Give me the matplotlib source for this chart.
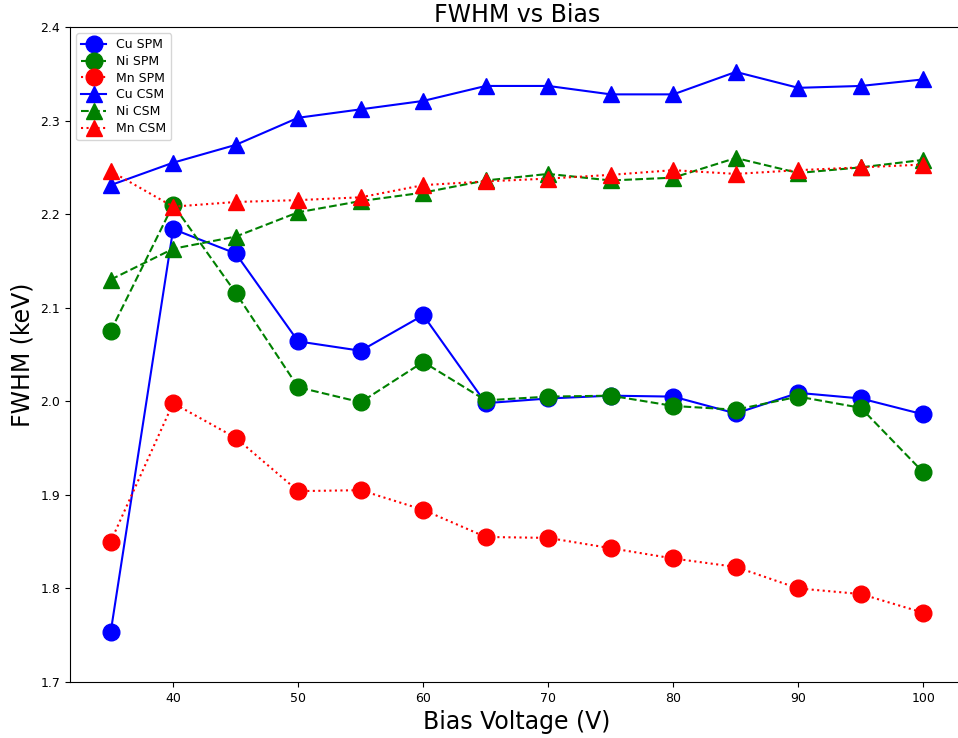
import numpy as np
import matplotlib
matplotlib.use("Agg")
import matplotlib.pyplot as plt

bias = [35, 40, 45, 50, 55, 60, 65, 70, 75, 80, 85, 90, 95, 100]

cu_spm = [1.753, 2.184, 2.158, 2.064, 2.054, 2.092, 1.998, 2.003, 2.006, 2.005, 1.987, 2.009, 2.003, 1.986]
ni_spm = [2.075, 2.210, 2.116, 2.015, 1.999, 2.042, 2.001, 2.005, 2.006, 1.995, 1.991, 2.005, 1.993, 1.924]
mn_spm = [1.850, 1.998, 1.961, 1.904, 1.905, 1.884, 1.855, 1.854, 1.843, 1.832, 1.823, 1.800, 1.794, 1.774]

cu_csm = [2.231, 2.255, 2.274, 2.303, 2.312, 2.321, 2.337, 2.337, 2.328, 2.328, 2.352, 2.335, 2.337, 2.344]
ni_csm = [2.130, 2.163, 2.176, 2.202, 2.214, 2.223, 2.236, 2.243, 2.236, 2.239, 2.260, 2.244, 2.250, 2.258]
mn_csm = [2.246, 2.208, 2.213, 2.215, 2.218, 2.231, 2.235, 2.238, 2.242, 2.247, 2.243, 2.247, 2.250, 2.253]

fig = plt.figure(figsize=(9.58, 7.38), dpi=100)
# axes runs off the right edge like the original screenshot
ax = fig.add_axes([70 / 958, 1 - 682 / 738, 894 / 958, 655 / 738])

ms = 12
ax.plot(bias, cu_spm, 'b-', marker='o', ms=ms, lw=1.5, label='Cu SPM')
ax.plot(bias, ni_spm, 'g--', marker='o', ms=ms, lw=1.5, label='Ni SPM')
ax.plot(bias, mn_spm, 'r:', marker='o', ms=ms, lw=1.5, label='Mn SPM')
ax.plot(bias, cu_csm, 'b-', marker='^', ms=ms, lw=1.5, label='Cu CSM')
ax.plot(bias, ni_csm, 'g--', marker='^', ms=ms, lw=1.5, label='Ni CSM')
ax.plot(bias, mn_csm, 'r:', marker='^', ms=ms, lw=1.5, label='Mn CSM')

ax.set_xlim(31.75, 103.25)
ax.set_ylim(1.7, 2.4)
ax.set_xticks([40, 50, 60, 70, 80, 90, 100])
ax.tick_params(labelsize=9)

ax.set_title('FWHM vs Bias', fontsize=17, pad=3)
ax.set_xlabel('Bias Voltage (V)', fontsize=17)
ax.set_ylabel('FWHM (keV)', fontsize=17)
ax.legend(loc='upper left', fontsize=9, labelspacing=0.3, handlelength=2.0)

fig.savefig('out.png', dpi=100)
